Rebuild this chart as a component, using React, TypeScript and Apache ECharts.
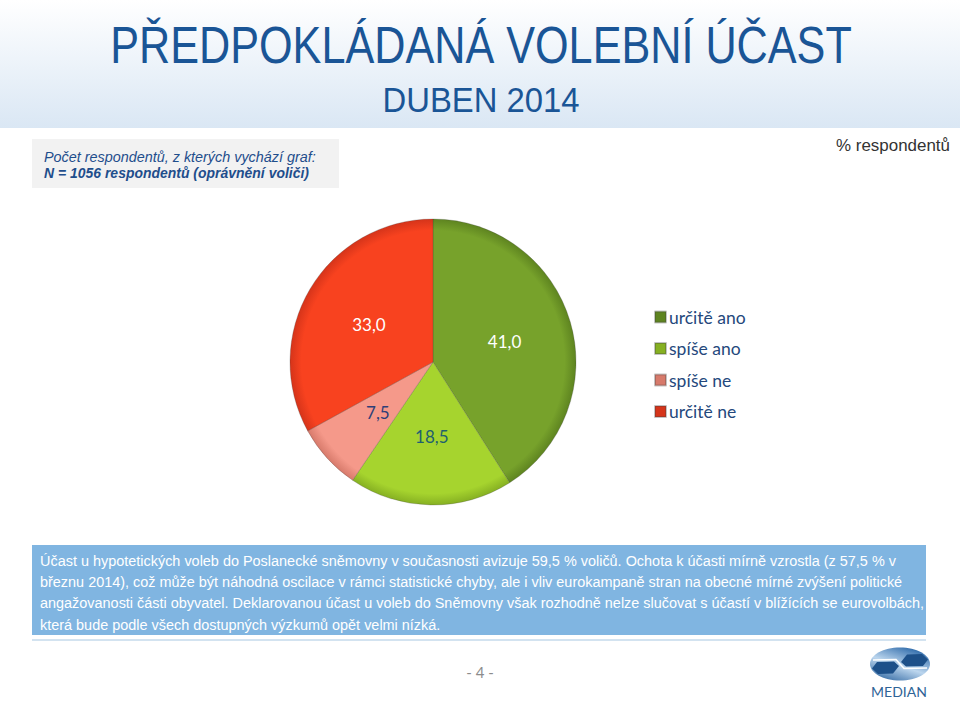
import React, { useEffect, useRef } from "react";
import * as echarts from "echarts";

const categories = ["určitě ano", "spíše ano", "spíše ne", "určitě ne"];
const values = [41.0, 18.5, 7.5, 33.0];
const sliceColors = ["#77a22b", "#a6d42e", "#f5998a", "#f8421f"];
const rimColors = ["#5e8420", "#86b022", "#d77a6b", "#d5341a"];
const labelColors = ["#ffffff", "#1f5f6f", "#2e3f78", "#ffffff"];

const titleText = "PŘEDPOKLÁDANÁ VOLEBNÍ ÚČAST";
const subtitleText = "DUBEN 2014";
const infoLines = ["Počet respondentů, z kterých vychází graf:", "N = 1056 respondentů (oprávnění voliči)"];
const unitText = "% respondentů";
const noteLines = [
  "Účast u hypotetických voleb do Poslanecké sněmovny v současnosti avizuje 59,5 % voličů. Ochota k účasti mírně vzrostla (z 57,5 % v",
  "březnu 2014), což může být náhodná oscilace v rámci statistické chyby, ale i vliv eurokampaně stran na obecné mírné zvýšení politické",
  "angažovanosti části obyvatel. Deklarovanou účast u voleb do Sněmovny však rozhodně nelze slučovat s účastí v blížících se eurovolbách,",
  "která bude podle všech dostupných výzkumů opět velmi nízká.",
];
const pageText = "- 4 -";
const logoText = "MEDIAN";

const FONT = "'Liberation Sans', Arial, sans-serif";
const SANS = "Lato, 'Liberation Sans', sans-serif";

function measure(text: string, font: string): number {
  const c = document.createElement("canvas").getContext("2d")!;
  c.font = font;
  return c.measureText(text).width;
}

export default function App() {
  const ref = useRef<HTMLDivElement>(null);
  useEffect(() => {
    document.body.style.margin = "0";
    const chart = echarts.init(ref.current!, null, { renderer: "svg" });

    const titleFont = `51px ${FONT}`;
    const titleScale = 742 / measure(titleText, titleFont);
    const subFont = `35px ${FONT}`;
    const subScale = 197 / measure(subtitleText, subFont);
    const info1Font = `italic 15.5px ${FONT}`;
    const info2Font = `italic bold 15.5px ${FONT}`;
    const info1Scale = 272 / measure(infoLines[0], info1Font);
    const info2Scale = 265 / measure(infoLines[1], info2Font);
    const unitFont = `17px ${FONT}`;
    const unitScale = 114 / measure(unitText, unitFont);
    const noteFont = `15.5px ${FONT}`;
    const noteScale = 857 / measure(noteLines[0], noteFont);
    const logoFont = `14px ${SANS}`;

    const data = categories.map((name, i) => ({
      name,
      value: values[i],
      itemStyle: {
        color: {
          type: "radial", x: 433, y: 362, r: 143, global: true,
          colorStops: [
            { offset: 0, color: sliceColors[i] },
            { offset: 0.92, color: sliceColors[i] },
            { offset: 1, color: rimColors[i] },
          ],
        },
      },
      label: { color: labelColors[i] },
    }));
    const noteGraphics = noteLines.map((t, i) => ({
      type: "text",
      x: 40,
      y: 560 + i * 21.3,
      scaleX: noteScale,
      style: { text: t, fill: "#ffffff", font: noteFont, textVerticalAlign: "middle" },
    }));
    chart.setOption({
      animation: false,
      backgroundColor: "#ffffff",
      graphic: [
        {
          type: "rect",
          shape: { x: 0, y: 0, width: 960, height: 128 },
          style: {
            fill: {
              type: "linear", x: 0, y: 0, x2: 0, y2: 1,
              colorStops: [
                { offset: 0, color: "#ffffff" },
                { offset: 1, color: "#dae7f4" },
              ],
            },
          },
          z: -10,
        },
        {
          type: "text", x: 481, y: 45, scaleX: titleScale,
          style: { text: titleText, fill: "#1a5596", font: titleFont, textAlign: "center", textVerticalAlign: "middle" },
        },
        {
          type: "text", x: 481, y: 100, scaleX: subScale,
          style: { text: subtitleText, fill: "#1a5596", font: subFont, textAlign: "center", textVerticalAlign: "middle" },
        },
        {
          type: "rect", shape: { x: 32, y: 139, width: 307, height: 49 },
          style: { fill: "#f2f2f2" },
        },
        {
          type: "text", x: 44, y: 156, scaleX: info1Scale,
          style: { text: infoLines[0], fill: "#1f4e8c", font: info1Font, textVerticalAlign: "middle" },
        },
        {
          type: "text", x: 44, y: 173, scaleX: info2Scale,
          style: { text: infoLines[1], fill: "#1f4e8c", font: info2Font, textVerticalAlign: "middle" },
        },
        {
          type: "text", x: 950, y: 145, scaleX: unitScale,
          style: { text: unitText, fill: "#333333", font: unitFont, textAlign: "right", textVerticalAlign: "middle" },
        },
        {
          type: "rect", shape: { x: 32, y: 545, width: 894, height: 90 },
          style: { fill: "#80b5e1" },
        },
        ...noteGraphics,
        {
          type: "line", shape: { x1: 32, y1: 640, x2: 926, y2: 640 },
          style: { stroke: "#d3e3f0", lineWidth: 2 },
        },
        {
          type: "text", x: 480, y: 672,
          style: { text: pageText, fill: "#8c8c8c", font: `15px ${SANS}`, textAlign: "center", textVerticalAlign: "middle" },
        },
        {
          type: "group", x: 870, y: 647,
          children: [
            {
              type: "ellipse", shape: { cx: 30, cy: 17, rx: 30, ry: 16.5 },
              style: {
                fill: {
                  type: "linear", x: 0, y: 1, x2: 0.6, y2: 0,
                  colorStops: [
                    { offset: 0, color: "#1c5796" },
                    { offset: 0.55, color: "#bcd6ee" },
                    { offset: 1, color: "#3b74b0" },
                  ],
                },
              },
            },
            {
              type: "polygon",
              shape: { points: [[31, 15], [37, 7.5], [52, 7], [58, 12.5], [53, 19], [36, 19.5]] },
              style: { fill: "#1d5089" },
            },
            {
              type: "polygon",
              shape: { points: [[29, 19], [23, 26.5], [8, 27], [2, 21.5], [7, 15], [24, 14.5]] },
              style: { fill: "#1d5089" },
            },
            {
              type: "polyline",
              shape: { points: [[3, 13], [26, 12.5], [34, 21.5], [57, 21]] },
              style: { stroke: "#ffffff", lineWidth: 1.6, fill: null },
            },
          ],
        },
        {
          type: "text", x: 899, y: 691,
          style: { text: logoText, fill: "#2f6396", font: logoFont, textAlign: "center", textVerticalAlign: "middle", letterSpacing: 3.5 } as any,
        },
      ],
      legend: {
        orient: "vertical",
        left: 649,
        top: 303,
        itemWidth: 11,
        itemHeight: 11,
        itemGap: 13.5,
        icon: "rect",
        data: categories,
        textStyle: { fontSize: 17.5, color: "#24487c", fontFamily: SANS, padding: [0, 0, 0, -2] },
        selectedMode: false,
      },
      series: [
        {
          type: "pie",
          center: [433, 362],
          radius: [0, 143],
          startAngle: 90,
          clockwise: true,
          data,
          itemStyle: { borderColor: "rgba(60,60,60,0.3)", borderWidth: 0.8 },
          label: {
            show: true,
            position: "inside",
            fontSize: 17,
            fontFamily: SANS,
            formatter: (p: any) => p.value.toFixed(1).replace(".", ","),
          },
          labelLine: { show: false },
          emphasis: { disabled: true },
        },
      ],
    });
    return () => chart.dispose();
  }, []);
  return <div ref={ref} style={{ width: 960, height: 702 }} />;
}
